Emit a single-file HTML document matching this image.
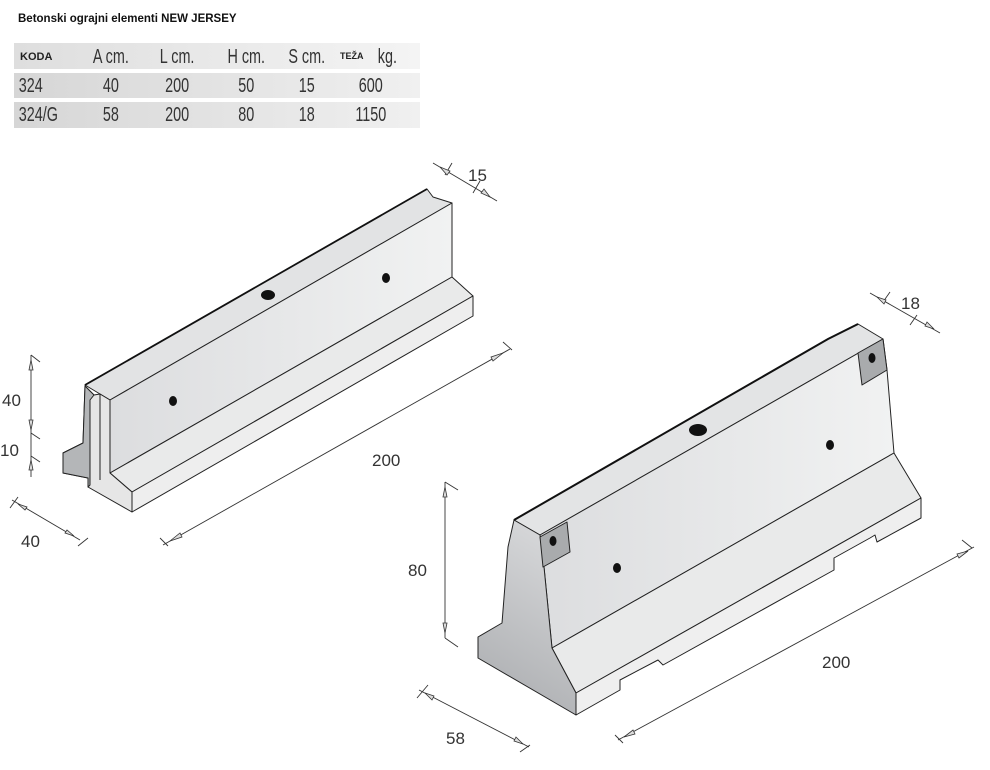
<!DOCTYPE html>
<html><head><meta charset="utf-8"><style>
body{margin:0;background:#fff;width:990px;height:770px;overflow:hidden;position:relative;font-family:"Liberation Sans",sans-serif}
</style></head><body>
<svg width="990" height="770" viewBox="0 0 990 770" style="position:absolute;left:0;top:0">
<defs>
<linearGradient id="row" x1="0" x2="1"><stop offset="0" stop-color="#d6d6d6"/><stop offset="1" stop-color="#f0f0f0"/></linearGradient>
<linearGradient id="hdr" x1="0" x2="1"><stop offset="0" stop-color="#dedede"/><stop offset="1" stop-color="#f4f4f4"/></linearGradient>
<linearGradient id="face" x1="0" x2="1"><stop offset="0" stop-color="#dcdddf"/><stop offset="1" stop-color="#f1f2f2"/></linearGradient>
<linearGradient id="end" x1="0" y1="1" x2="0.3" y2="0"><stop offset="0" stop-color="#a8aaad"/><stop offset="1" stop-color="#d4d5d7"/></linearGradient>
</defs>
<text x="18" y="22" font-size="11.5" font-weight="bold" fill="#111">Betonski ograjni elementi NEW JERSEY</text>
<rect x="14" y="43" width="406" height="26" fill="url(#hdr)"/>
<rect x="14" y="73" width="406" height="25" fill="url(#row)"/>
<rect x="14" y="102" width="406" height="26" fill="url(#row)"/>
<g font-size="20" fill="#333" font-family="Liberation Sans Narrow,Liberation Sans,sans-serif">
<text x="20" y="60" font-size="11" font-weight="bold" fill="#222" font-family="Liberation Sans,sans-serif">KODA</text>
<g text-anchor="middle" transform="scale(0.72,1)">
<text x="154" y="63">A cm.</text><text x="246" y="63">L cm.</text><text x="342" y="63">H cm.</text><text x="426" y="63">S cm.</text><text x="538" y="63">kg.</text>
<text x="154" y="92">40</text><text x="246" y="92">200</text><text x="342" y="92">50</text><text x="426" y="92">15</text><text x="515" y="92">600</text>
<text x="154" y="121">58</text><text x="246" y="121">200</text><text x="342" y="121">80</text><text x="426" y="121">18</text><text x="515" y="121">1150</text>
</g>
<g transform="scale(0.72,1)"><text x="26" y="92">324</text><text x="26" y="121">324/G</text></g>
<text x="340" y="59" font-size="9" font-weight="bold" fill="#222" font-family="Liberation Sans,sans-serif">TEŽA</text>
</g>

<!-- Barrier 1 -->
<g stroke="#222" stroke-width="1" stroke-linejoin="round">
<polygon points="85,385 427,189 433,197 452,203 110,400" fill="#e2e3e4"/>
<polygon points="110,400 452,203 452,277 110,473" fill="url(#face)"/>
<polygon points="110,473 452,277 473,296 132,492" fill="#e9eaea"/>
<polygon points="132,492 473,296 473,316 132,512" fill="#eeeeee"/>
<polygon points="85,386 94,395 100,394 110,400 110,473 132,492 132,512 88,487 88,478 63,473 63,453 83,443" fill="#e6e6e6"/>
<polygon points="85,386 94,395 90,400 90,485 88,487 88,478 63,473 63,453 83,443" fill="#b4b6b8"/>
<line x1="100" y1="394" x2="100" y2="480"/>
</g>
<polyline points="85,385 427,189" stroke="#111" stroke-width="1.8" fill="none"/>
<ellipse cx="268" cy="295" rx="7" ry="5" fill="#111"/>
<ellipse cx="386" cy="278" rx="4" ry="5" fill="#111"/>
<ellipse cx="173" cy="401" rx="4" ry="5" fill="#111"/>

<!-- Barrier 2 -->
<g stroke="#222" stroke-width="1" stroke-linejoin="round">
<polygon points="514,520 828,339 858,324 883,339 540,535" fill="#e3e4e5"/>
<polygon points="540,535 883,339 887,370 894,453 552,648 544,567" fill="url(#face)"/>
<polygon points="552,648 894,453 921,498 576,693" fill="#e9eaea"/>
<polygon points="576,693 921,498 921,518 877,542 875,535 870,538 834,558 834,570 663,665 658,660 620,680 620,690 576,715" fill="#efefef"/>
<polygon points="514,520 540,535 544,567 552,648 576,693 576,715 478,658 478,637 502,623 508,547" fill="url(#end)"/>
<polygon points="540,537 567,522 570,552 543,567" fill="#a9abad"/>
<polygon points="858,353 883,339 887,370 862,385" fill="#a9abad"/>
</g>
<polyline points="514,520 828,339 858,324" stroke="#111" stroke-width="2" fill="none"/>
<ellipse cx="553" cy="541" rx="3.5" ry="5" fill="#111"/>
<ellipse cx="872" cy="358" rx="3.5" ry="5" fill="#111"/>
<ellipse cx="698" cy="430" rx="9" ry="6" fill="#111"/>
<ellipse cx="830" cy="445" rx="4" ry="5" fill="#111"/>
<ellipse cx="617" cy="568" rx="4" ry="5" fill="#111"/>

<!-- dimension lines -->
<g stroke="#333" stroke-width="0.9" fill="none">
<line x1="433" y1="163" x2="497" y2="201"/><line x1="445" y1="175" x2="452" y2="163"/><line x1="473" y1="193" x2="480" y2="181"/>
<line x1="163" y1="545" x2="510" y2="349"/><line x1="160" y1="538" x2="168" y2="546"/><line x1="503" y1="342" x2="512" y2="350"/>
<line x1="31" y1="355" x2="31" y2="477"/><line x1="31" y1="355" x2="40" y2="362"/><line x1="31" y1="433" x2="40" y2="439"/><line x1="31" y1="456" x2="40" y2="462"/>
<line x1="12" y1="500" x2="80" y2="540"/><line x1="10" y1="508" x2="18" y2="497"/><line x1="78" y1="546" x2="88" y2="538"/>
<line x1="870" y1="293" x2="940" y2="333"/><line x1="883" y1="302" x2="890" y2="292"/><line x1="910" y1="325" x2="917" y2="315"/>
<line x1="618" y1="740" x2="974" y2="547"/><line x1="615" y1="735" x2="623" y2="743"/><line x1="962" y1="540" x2="972" y2="548"/>
<line x1="445" y1="482" x2="445" y2="638"/><line x1="445" y1="482" x2="458" y2="490"/><line x1="445" y1="638" x2="458" y2="647"/>
<line x1="419" y1="690" x2="529" y2="747"/><line x1="417" y1="698" x2="428" y2="685"/><line x1="520" y1="752" x2="530" y2="745"/>
</g>
<g fill="#ddd" stroke="#333" stroke-width="0.8">
<polygon points="440,167 450,171 447,175"/><polygon points="490,197 481,193 484,189"/>
<polygon points="170,541 180,533 182,537"/><polygon points="503,353 493,361 491,357"/>
<polygon points="31,360 29,370 33,370"/><polygon points="31,430 29,420 33,420"/><polygon points="31,460 29,470 33,470"/>
<polygon points="18,504 27,507 25,510"/><polygon points="74,536 65,533 67,530"/>
<polygon points="877,297 886,300 884,304"/><polygon points="934,329 925,326 927,322"/>
<polygon points="624,737 633,730 635,734"/><polygon points="968,551 959,558 957,554"/>
<polygon points="445,487 443,497 447,497"/><polygon points="445,633 443,623 447,623"/>
<polygon points="425,693 434,696 432,700"/><polygon points="523,744 514,741 516,737"/>
</g>
<g font-size="17" fill="#333">
<text x="468" y="181">15</text><text x="372" y="466">200</text>
<text x="2" y="406">40</text><text x="0" y="456">10</text><text x="21" y="547">40</text>
<text x="901" y="309">18</text><text x="822" y="668">200</text><text x="408" y="576">80</text><text x="446" y="744">58</text>
</g>
</svg>
</body></html>
